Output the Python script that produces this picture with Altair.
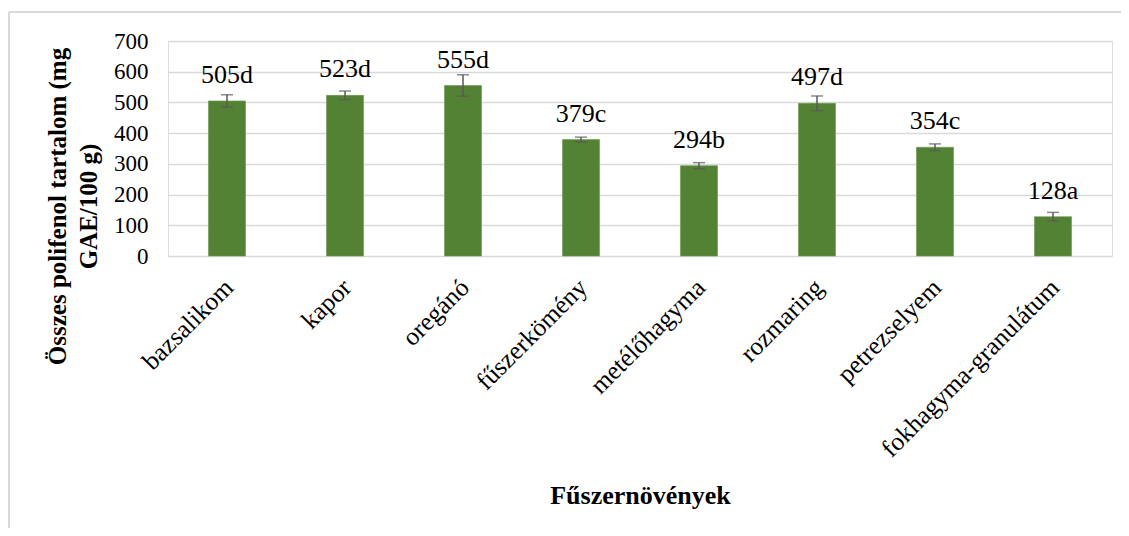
import altair as alt
import pandas as pd

categories = ["bazsalikom", "kapor", "oregánó", "fűszerkömény", "metélőhagyma",
              "rozmaring", "petrezselyem", "fokhagyma-granulátum"]
values = [505, 523, 555, 379, 294, 497, 354, 128]
errors = [20, 14, 35, 8, 10, 24, 11, 14]
letters = ["d", "d", "d", "c", "b", "d", "c", "a"]
y_ticks = [0, 100, 200, 300, 400, 500, 600, 700]

df = pd.DataFrame({
    "cat": categories,
    "val": values,
    "err": errors,
    "label": [f"{v}{l}" for v, l in zip(values, letters)],
})
df["lo"] = df["val"] - df["err"]
df["hi"] = df["val"] + df["err"]

FONT = "Liberation Serif, Times New Roman, Times, serif"
W, H = 944, 215

xscale = alt.Scale(paddingInner=0.686, paddingOuter=0.343)
xaxis = alt.Axis(title="Fűszernövények", labelAngle=315, labelAlign="right",
                 labelBaseline="middle", labelFont=FONT, labelFontSize=25.5,
                 labelColor="black", labelPadding=27, labelOffset=2,
                 labelLimit=0, labelOverlap=False,
                 ticks=False, domain=False,
                 titleFont=FONT, titleFontSize=26, titleFontWeight="bold",
                 titleColor="black", titleY=247, titleBaseline="alphabetic")
yscale = alt.Scale(domain=[0, 700], nice=False)
yaxis = alt.Axis(title=["Összes polifenol tartalom (mg", "GAE/100 g)"],
                 values=y_ticks, labelOverlap=False,
                 labelFont=FONT, labelFontSize=23, labelColor="black",
                 labelPadding=20, ticks=False, domain=False,
                 gridColor="#d9d9d9", gridWidth=1.3,
                 titleFont=FONT, titleFontSize=25, titleFontWeight="bold",
                 titleColor="black", titleAngle=270, titleAlign="center",
                 titleBaseline="middle", titleLineHeight=31,
                 titleX=-111, titleY=165)

X = alt.X("cat:N", sort=categories, scale=xscale, axis=xaxis)

base = alt.Chart(df)

bars = base.mark_bar(color="#548235", stroke="#6a9a4a", strokeWidth=0.6).encode(
    x=X, y=alt.Y("val:Q", scale=yscale, axis=yaxis))

err_rule = base.mark_rule(color="#595959", strokeWidth=1.5).encode(
    x=X, y=alt.Y("lo:Q", scale=yscale, axis=yaxis), y2="hi:Q")
cap_hi = base.mark_tick(color="#595959", thickness=1.5, size=12).encode(
    x=X, y=alt.Y("hi:Q", scale=yscale, axis=yaxis))
cap_lo = base.mark_tick(color="#595959", thickness=1.5, size=12).encode(
    x=X, y=alt.Y("lo:Q", scale=yscale, axis=yaxis))

labels = base.mark_text(font=FONT, fontSize=26, color="black", dy=-18,
                        baseline="alphabetic", align="center").encode(
    x=X, y=alt.Y("val:Q", scale=yscale, axis=yaxis), text="label:N")

frame_top = alt.Chart(df).mark_rule(color="#d9d9d9", strokeWidth=1.3).encode(
    x=alt.value(-159), x2=alt.value(960), y=alt.value(-29))
frame_left = alt.Chart(df).mark_rule(color="#d9d9d9", strokeWidth=1.3).encode(
    x=alt.value(-159), y=alt.value(-29), y2=alt.value(490))

chart = alt.layer(bars, err_rule, cap_hi, cap_lo, labels, frame_top, frame_left).properties(
    width=W, height=H,
    autosize=alt.AutoSizeParams(type="none"),
    padding={"left": 160, "top": 33, "right": 9, "bottom": 272},
).configure_view(stroke=None).configure(background="white", font=FONT)

chart.save("out.html", embed_options={"renderer": "svg", "actions": False})
